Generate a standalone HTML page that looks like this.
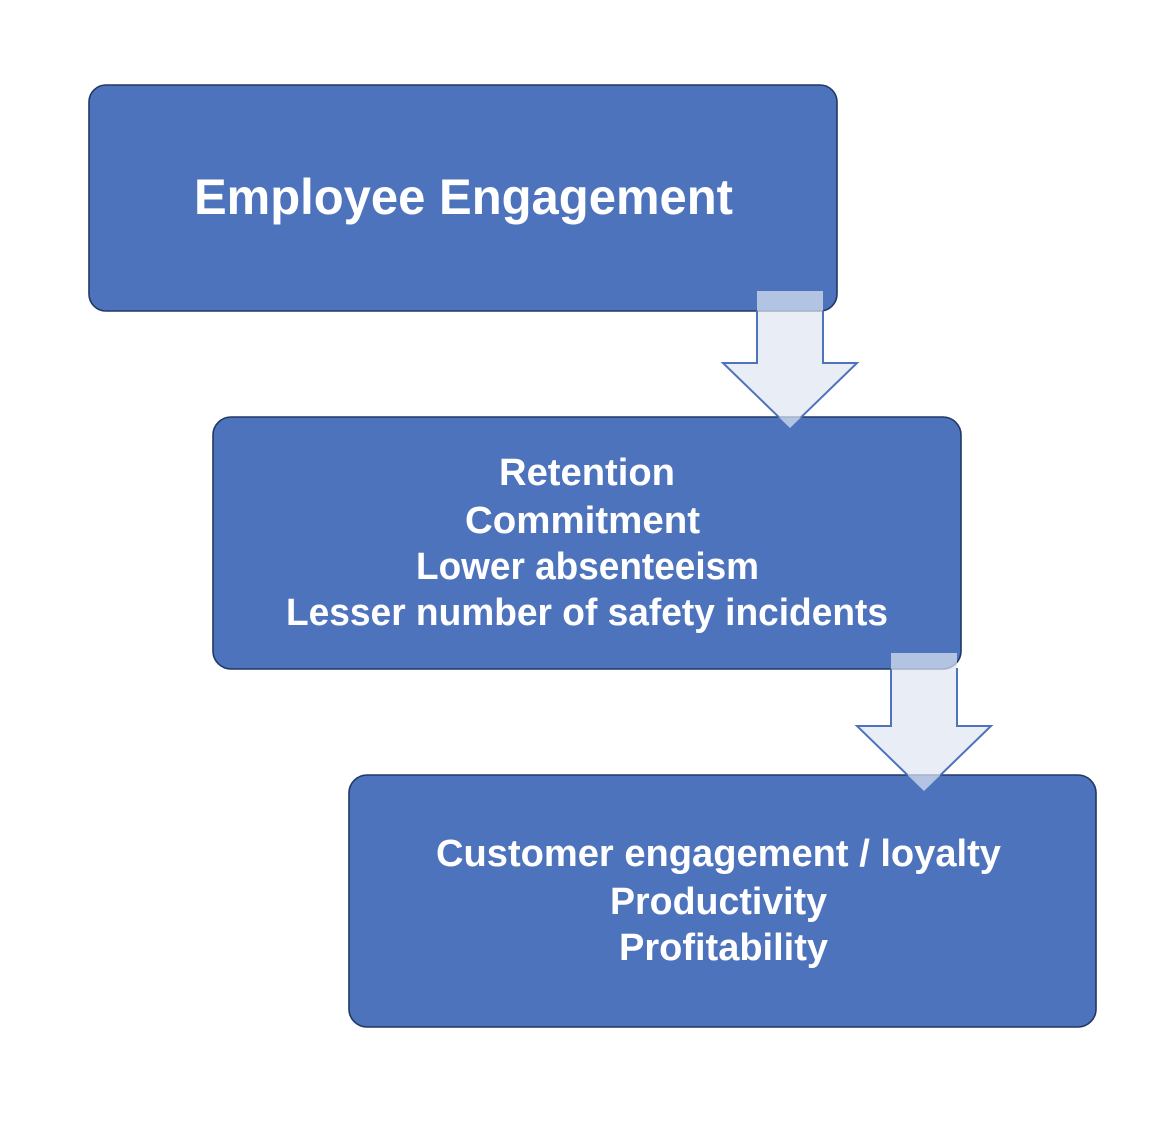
<!DOCTYPE html>
<html><head><meta charset="utf-8"><style>html,body{margin:0;padding:0;background:#fff}svg{display:block}text{font-family:"Liberation Sans",sans-serif;font-weight:700;fill:#fff}</style></head>
<body><svg width="1166" height="1132" viewBox="0 0 1166 1132" xmlns="http://www.w3.org/2000/svg">
<g fill="#4e73bd" stroke="#203864" stroke-width="1.6">
<rect x="89" y="85" width="748" height="226" rx="17"/>
<rect x="213" y="417" width="748" height="252" rx="18"/>
<rect x="349" y="775" width="747" height="252" rx="18"/>
</g>
<text x="194" y="214" font-size="50" textLength="539" lengthAdjust="spacingAndGlyphs">Employee Engagement</text>
<g font-size="38">
<text x="499" y="485" textLength="176" lengthAdjust="spacingAndGlyphs">Retention</text>
<text x="465" y="533" textLength="235" lengthAdjust="spacingAndGlyphs">Commitment</text>
<text x="416" y="579" textLength="343" lengthAdjust="spacingAndGlyphs">Lower absenteeism</text>
<text x="286" y="625" textLength="602" lengthAdjust="spacingAndGlyphs">Lesser number of safety incidents</text>
<text x="436" y="866" textLength="565" lengthAdjust="spacingAndGlyphs">Customer engagement / loyalty</text>
<text x="610" y="914" textLength="217" lengthAdjust="spacingAndGlyphs">Productivity</text>
<text x="619" y="960" textLength="209" lengthAdjust="spacingAndGlyphs">Profitability</text>
</g>
<g fill="#dee6f2" fill-opacity="0.7">
<path d="M757 291H823V363H857L790 428L723 363H757Z"/>
<path d="M891 653H957V726H991L924 791L857 726H891Z"/>
</g>
<g fill="none" stroke="#4e73bd" stroke-width="2">
<path d="M757 311V363H723L779 417.3"/>
<path d="M823 311V363H857L801 417.3"/>
<path d="M891 669V726H857L907.5 775"/>
<path d="M957 668V726H991L940.5 775"/>
</g>
</svg></body></html>
